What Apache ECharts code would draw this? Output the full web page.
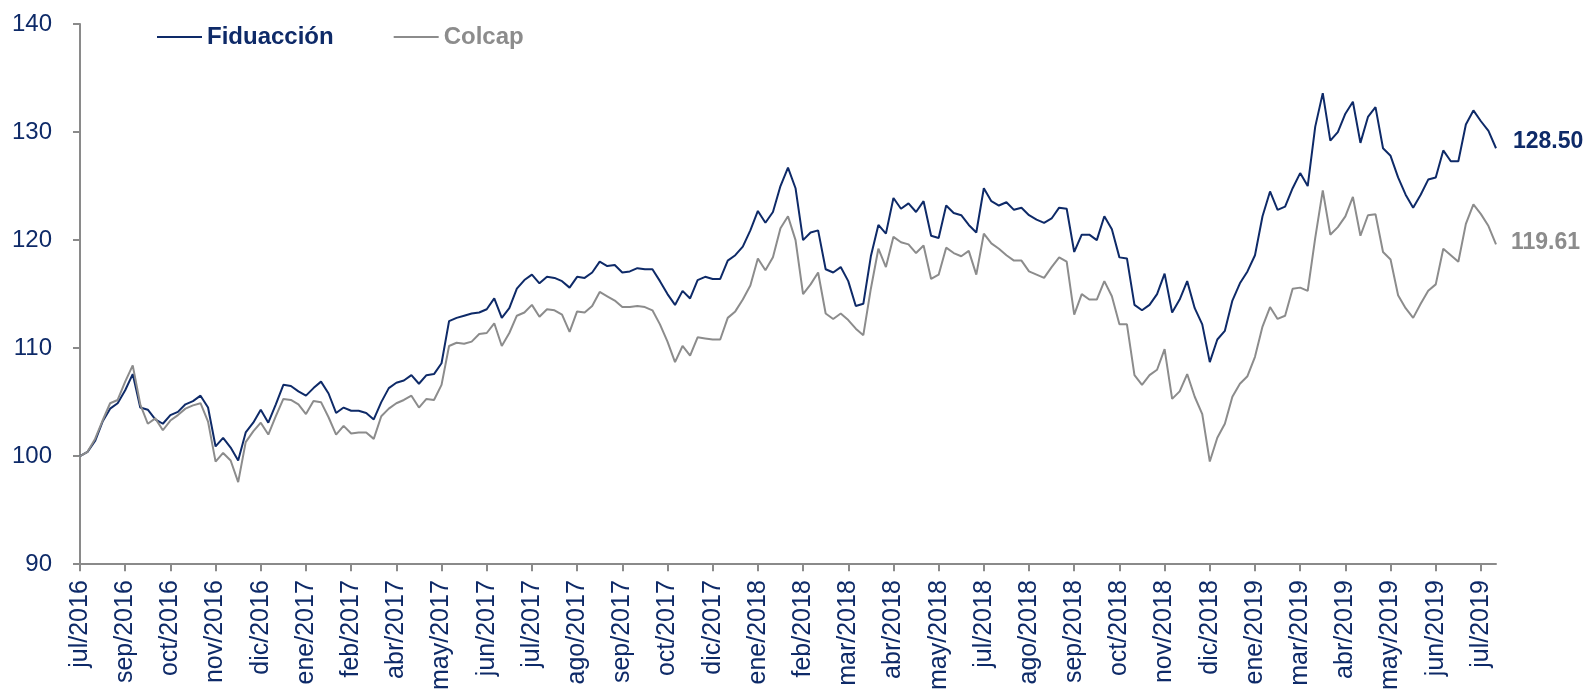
<!DOCTYPE html>
<html>
<head>
<meta charset="utf-8">
<script src="https://cdn.jsdelivr.net/npm/echarts@6/dist/echarts.min.js"></script>
<style>
  html, body { margin: 0; padding: 0; background: #fff; }
  #chart { width: 1593px; height: 693px; }
</style>
</head>
<body>
<div id="chart"></div>
<script>
// valores base 100 (6 puntos por cada etiqueta del eje)
var fiduaccion = [
  100, 100.4, 101.4, 103.2, 104.4, 104.9, 106.1, 107.6, 104.5, 104.3, 103.4, 103.0,
  103.8, 104.1, 104.8, 105.1, 105.6, 104.5, 100.9, 101.7, 100.8, 99.6, 102.2, 103.1,
  104.3, 103.1, 104.8, 106.6, 106.5, 106.0, 105.6, 106.3, 106.9, 105.8, 104.0, 104.5,
  104.2, 104.2, 104.0, 103.4, 105.0, 106.3, 106.8, 107.0, 107.5, 106.7, 107.5, 107.6,
  108.6, 112.5, 112.8, 113.0, 113.2, 113.3, 113.6, 114.6, 112.8, 113.7, 115.5, 116.3,
  116.8, 116.0, 116.6, 116.5, 116.2, 115.6, 116.6, 116.5, 117.0, 118.0, 117.6, 117.7,
  117.0, 117.1, 117.4, 117.3, 117.3, 116.2, 115.0, 114.0, 115.3, 114.6, 116.3, 116.6,
  116.4, 116.4, 118.1, 118.6, 119.4, 120.9, 122.7, 121.6, 122.6, 125.0, 126.7, 124.8,
  120.0, 120.7, 120.9, 117.3, 117.0, 117.5, 116.2, 113.9, 114.1, 118.5, 121.4, 120.6,
  123.9, 122.9, 123.4, 122.6, 123.6, 120.4, 120.2, 123.2, 122.5, 122.3, 121.4, 120.7,
  124.8, 123.6, 123.2, 123.5, 122.8, 123.0, 122.3, 121.9, 121.6, 122.0, 123.0, 122.9,
  118.9, 120.5, 120.5, 120.0, 122.2, 121.0, 118.4, 118.3, 114.0, 113.5, 114.0, 115.0,
  116.9, 113.3, 114.5, 116.2, 113.7, 112.2, 108.7, 110.8, 111.6, 114.4, 116.0, 117.1,
  118.6, 122.2, 124.5, 122.8, 123.1, 124.8, 126.2, 125.0, 130.5, 133.6, 129.2, 130.0,
  131.7, 132.8, 129.0, 131.4, 132.3, 128.5, 127.8, 125.8, 124.2, 123.0, 124.2, 125.6,
  125.8, 128.3, 127.3, 127.3, 130.7, 132.0, 131.0, 130.1, 128.50
];
var colcap = [
  100, 100.4, 101.6, 103.3, 104.9, 105.2, 106.9, 108.4, 104.8, 103.0, 103.5, 102.4,
  103.3, 103.8, 104.4, 104.7, 104.9, 103.2, 99.5, 100.3, 99.6, 97.6, 101.3, 102.3,
  103.1, 102.0, 103.7, 105.3, 105.2, 104.8, 103.9, 105.1, 105.0, 103.6, 102.0, 102.8,
  102.1, 102.2, 102.2, 101.6, 103.7, 104.4, 104.9, 105.2, 105.6, 104.5, 105.3, 105.2,
  106.6, 110.2, 110.5, 110.4, 110.6, 111.3, 111.4, 112.3, 110.2, 111.4, 113.0, 113.3,
  114.0, 112.9, 113.6, 113.5, 113.1, 111.5, 113.4, 113.3, 113.9, 115.2, 114.8, 114.4,
  113.8, 113.8, 113.9, 113.8, 113.5, 112.2, 110.6, 108.7, 110.2, 109.3, 111.0, 110.9,
  110.8, 110.8, 112.8, 113.4, 114.5, 115.8, 118.3, 117.2, 118.4, 121.1, 122.2, 120.0,
  115.0, 115.9, 117.0, 113.2, 112.7, 113.2, 112.6, 111.8, 111.2, 115.5, 119.2, 117.5,
  120.3, 119.8, 119.6, 118.8, 119.5, 116.4, 116.8, 119.3, 118.8, 118.5, 119.0, 116.8,
  120.6, 119.7, 119.2, 118.6, 118.1, 118.1, 117.1, 116.8, 116.5, 117.5, 118.4, 118.0,
  113.1, 115.0, 114.5, 114.5, 116.2, 114.8, 112.2, 112.2, 107.5, 106.6, 107.5, 108.0,
  109.9, 105.3, 106.0, 107.6, 105.5, 103.9, 99.5, 101.7, 103.0, 105.5, 106.7, 107.4,
  109.2, 112.0, 113.8, 112.7, 113.0, 115.5, 115.6, 115.3, 120.2, 124.6, 120.5, 121.2,
  122.2, 124.0, 120.4, 122.3, 122.4, 118.9, 118.2, 114.9, 113.7, 112.8, 114.1, 115.3,
  115.9, 119.2, 118.6, 118.0, 121.5, 123.3, 122.4, 121.3, 119.61
];
var tickLabels = [
  'jul/2016', 'sep/2016', 'oct/2016', 'nov/2016', 'dic/2016', 'ene/2017', 'feb/2017',
  'abr/2017', 'may/2017', 'jun/2017', 'jul/2017', 'ago/2017', 'sep/2017', 'oct/2017',
  'dic/2017', 'ene/2018', 'feb/2018', 'mar/2018', 'abr/2018', 'may/2018', 'jul/2018',
  'ago/2018', 'sep/2018', 'oct/2018', 'nov/2018', 'dic/2018', 'ene/2019', 'mar/2019',
  'abr/2019', 'may/2019', 'jun/2019', 'jul/2019'
];
var pointsPerTick = 6;

var navy = '#0e2a68';
var gris = '#8c8c8c';
var fuente = 'Liberation Sans, Arial, sans-serif';

var categorias = [];
for (var i = 0; i < fiduaccion.length; i++) {
  categorias.push(String(i));
}

var myChart = echarts.init(document.getElementById('chart'));
var option = {
  animation: false,
  backgroundColor: '#fff',
  grid: { left: 80, right: 97, top: 24, bottom: 126 },
  legend: {
    left: 152,
    top: 20,
    icon: 'rect',
    itemWidth: 45,
    itemHeight: 2,
    itemGap: 60,
    textStyle: { fontFamily: fuente, fontSize: 24, fontWeight: 'bold' },
    data: [
      { name: 'Fiduacción', textStyle: { color: navy } },
      { name: 'Colcap', textStyle: { color: gris } }
    ]
  },
  xAxis: {
    type: 'category',
    data: categorias,
    boundaryGap: false,
    axisLine: { lineStyle: { color: '#8a8a8a', width: 2 } },
    axisTick: { interval: pointsPerTick - 1, length: 7, lineStyle: { color: '#8a8a8a', width: 2 } },
    axisLabel: {
      interval: pointsPerTick - 1,
      rotate: 90,
      margin: 16,
      color: navy,
      fontFamily: fuente,
      fontSize: 25,
      formatter: function (v, idx) {
        return tickLabels[Math.round(idx / pointsPerTick)] || '';
      }
    },
    splitLine: { show: false }
  },
  yAxis: {
    type: 'value',
    min: 90,
    max: 140,
    interval: 10,
    axisLine: { show: true, lineStyle: { color: '#8a8a8a', width: 2 } },
    axisTick: { show: true, length: 7, lineStyle: { color: '#8a8a8a', width: 2 } },
    axisLabel: { color: navy, fontFamily: fuente, fontSize: 24, margin: 28 },
    splitLine: { show: false }
  },
  series: [
    {
      name: 'Fiduacción',
      type: 'line',
      data: fiduaccion,
      symbol: 'none',
      color: navy,
      lineStyle: { color: navy, width: 2 },
      endLabel: {
        show: true,
        distance: 17,
        offset: [0, -7],
        color: navy,
        fontFamily: fuente,
        fontSize: 23,
        fontWeight: 'bold',
        formatter: function (p) { return p.value.toFixed(2); }
      }
    },
    {
      name: 'Colcap',
      type: 'line',
      data: colcap,
      symbol: 'none',
      color: gris,
      lineStyle: { color: gris, width: 2 },
      endLabel: {
        show: true,
        distance: 15,
        offset: [0, -2],
        color: gris,
        fontFamily: fuente,
        fontSize: 23,
        fontWeight: 'bold',
        formatter: function (p) { return p.value.toFixed(2); }
      }
    }
  ]
};
myChart.setOption(option);
window.addEventListener('resize', myChart.resize);
</script>
</body>
</html>
